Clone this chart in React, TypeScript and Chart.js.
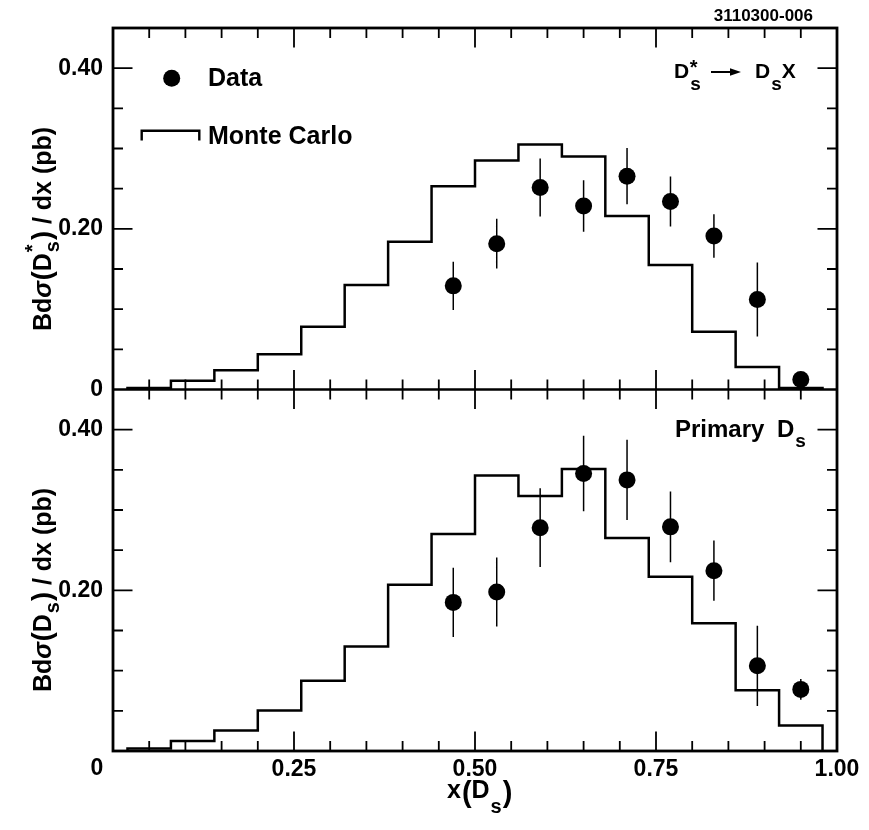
import React, { useEffect, useRef } from 'react';
import { Chart, registerables } from 'chart.js';

Chart.register(...registerables);

// ---------------- data ----------------
const binEdges = [0.02, 0.08, 0.14, 0.2, 0.26, 0.32, 0.38, 0.44, 0.5, 0.56, 0.62, 0.68, 0.74, 0.8, 0.86, 0.92, 0.98];
const mcTop = [0.002, 0.011, 0.024, 0.044, 0.078, 0.13, 0.184, 0.253, 0.285, 0.305, 0.29, 0.216, 0.155, 0.072, 0.028, 0.002];
const mcBottom = [0.003, 0.0125, 0.0255, 0.0505, 0.0875, 0.13, 0.207, 0.27, 0.343, 0.3175, 0.351, 0.265, 0.217, 0.159, 0.0755, 0.0317];

const dataX = [0.47, 0.53, 0.59, 0.65, 0.71, 0.77, 0.83, 0.89, 0.95];
const dataTop = [0.129, 0.1815, 0.2515, 0.2285, 0.2655, 0.234, 0.191, 0.112, 0.0125];
const errTop = [0.03, 0.031, 0.036, 0.032, 0.035, 0.031, 0.027, 0.046, 0.006];
const dataBottom = [0.185, 0.198, 0.278, 0.3455, 0.3375, 0.279, 0.2245, 0.106, 0.0767];
const errBottom = [0.043, 0.043, 0.049, 0.047, 0.05, 0.044, 0.0375, 0.05, 0.013];

const xLabelValues = [0.25, 0.5, 0.75, 1.0];
const xLabelTexts = ['0.25', '0.50', '0.75', '1.00'];
const yLabelValues = [0, 0.2, 0.4];
const yLabelTexts = ['0', '0.20', '0.40'];

// ---------------- helpers ----------------
const FONT = "'Liberation Sans', Arial, Helvetica, sans-serif";
const B = (s: number) => `bold ${s}px ${FONT}`;
const W = 869;
const H = 830;

function near(a: number, b: number) {
  return Math.abs(a - b) < 1e-6;
}
function labelFor(v: number, values: number[], texts: string[]) {
  const i = values.findIndex((u) => near(u, v));
  return i >= 0 ? texts[i] : '';
}
function stepPoints(edges: number[], vals: number[]) {
  const pts: { x: number; y: number }[] = [{ x: edges[0], y: 0 }];
  vals.forEach((v, i) => {
    pts.push({ x: edges[i], y: v });
    pts.push({ x: edges[i + 1], y: v });
  });
  pts.push({ x: edges[edges.length - 1], y: 0 });
  return pts;
}
function errPoints(xs: number[], ys: number[], es: number[]) {
  const pts: { x: number; y: number | null }[] = [];
  xs.forEach((x, i) => {
    pts.push({ x, y: ys[i] - es[i] }, { x, y: ys[i] + es[i] }, { x, y: null });
  });
  return pts;
}

function drawParts(ctx: CanvasRenderingContext2D, x: number, y: number, parts: any[]) {
  let cx = x;
  for (const p of parts) {
    ctx.font = p.font;
    const w = ctx.measureText(p.t).width;
    ctx.fillText(p.t, cx, y + (p.dy || 0));
    if (!p.noAdvance) cx += w + (p.gap || 0);
  }
  return cx;
}
function partsWidth(ctx: CanvasRenderingContext2D, parts: any[]) {
  let w = 0;
  for (const p of parts) {
    ctx.font = p.font;
    if (!p.noAdvance) w += ctx.measureText(p.t).width + (p.gap || 0);
  }
  return w;
}

function yTitleParts(star: boolean) {
  const parts: any[] = [
    { t: 'Bd', font: B(25) },
    { t: 'σ', font: `italic bold 25px ${FONT}`, gap: 1 },
    { t: '(', font: B(27) },
    { t: 'D', font: B(25), gap: 1 },
  ];
  if (star) parts.push({ t: '*', font: B(20), dy: -12, noAdvance: true });
  parts.push({ t: 's', font: B(20), dy: 8, gap: 1 });
  parts.push({ t: ')', font: B(27) });
  parts.push({ t: ' / dx (pb)', font: B(25) });
  return parts;
}

const framePlugin = {
  id: 'frameTicks',
  afterDatasetsDraw(chart: any) {
    const ctx: CanvasRenderingContext2D = chart.ctx;
    const { left, right, top, bottom } = chart.chartArea;
    const xs = chart.scales.x;
    const yt = chart.scales.yTop;
    const yb = chart.scales.yBot;
    const mid = yt.getPixelForValue(0);
    ctx.save();
    ctx.strokeStyle = '#000';
    ctx.lineWidth = 1.8;
    ctx.beginPath();
    xs.ticks.forEach((t: any) => {
      const v = t.value;
      if (v <= 1e-6 || v >= 1 - 1e-6) return;
      const major = near(v / 0.25, Math.round(v / 0.25));
      const len = major ? 19.5 : 10;
      const px = xs.getPixelForValue(v);
      ctx.moveTo(px, bottom);
      ctx.lineTo(px, bottom - len);
      ctx.moveTo(px, top);
      ctx.lineTo(px, top + len);
      ctx.moveTo(px, mid - len);
      ctx.lineTo(px, mid + len);
    });
    [yt, yb].forEach((ys: any) => {
      ys.ticks.forEach((t: any) => {
        const v = t.value;
        if (v <= 1e-6 || v >= ys.max - 1e-6) return;
        const major = near(v / 0.2, Math.round(v / 0.2));
        const len = major ? 19.5 : 10;
        const py = ys.getPixelForValue(v);
        ctx.moveTo(left, py);
        ctx.lineTo(left + len, py);
        ctx.moveTo(right, py);
        ctx.lineTo(right - len, py);
      });
    });
    ctx.stroke();
    ctx.lineWidth = 2.8;
    ctx.strokeRect(left, top, right - left, bottom - top);
    ctx.lineWidth = 2.4;
    ctx.beginPath();
    ctx.moveTo(left, mid);
    ctx.lineTo(right, mid);
    ctx.stroke();
    ctx.restore();
  },
  afterDraw(chart: any) {
    const ctx: CanvasRenderingContext2D = chart.ctx;
    const xs = chart.scales.x;
    ctx.save();
    ctx.fillStyle = '#000';
    ctx.strokeStyle = '#000';
    ctx.textBaseline = 'alphabetic';

    // figure id
    ctx.font = B(17);
    ctx.textAlign = 'right';
    ctx.fillText('3110300-006', 813, 21);
    ctx.textAlign = 'left';

    // legend
    ctx.beginPath();
    ctx.arc(171.7, 78.3, 8.5, 0, Math.PI * 2);
    ctx.fill();
    ctx.font = B(25);
    ctx.fillText('Data', 208, 86);
    ctx.lineWidth = 2.4;
    ctx.beginPath();
    ctx.moveTo(141.7, 140.5);
    ctx.lineTo(141.7, 130.7);
    ctx.lineTo(199.3, 130.7);
    ctx.lineTo(199.3, 140.5);
    ctx.stroke();
    ctx.fillText('Monte Carlo', 208, 143.5);

    // top-right panel label: Ds* -> Ds X
    ctx.font = B(21);
    ctx.fillText('D', 674, 78);
    const wD = ctx.measureText('D').width;
    ctx.font = B(20);
    ctx.fillText('*', 674 + wD + 0.5, 74);
    ctx.font = B(19);
    ctx.fillText('s', 674 + wD + 1, 90);
    ctx.lineWidth = 2;
    ctx.beginPath();
    ctx.moveTo(711, 72);
    ctx.lineTo(732, 72);
    ctx.stroke();
    ctx.beginPath();
    ctx.moveTo(730, 68.3);
    ctx.lineTo(741, 72);
    ctx.lineTo(730, 75.7);
    ctx.closePath();
    ctx.fill();
    ctx.font = B(21);
    ctx.fillText('D', 755, 78);
    ctx.font = B(19);
    ctx.fillText('s', 755 + wD + 1, 90);
    const ws = ctx.measureText('s').width;
    ctx.font = B(21);
    ctx.fillText('X', 755 + wD + 1 + ws, 78);

    // bottom panel label: Primary Ds
    ctx.font = B(24);
    ctx.fillText('Primary', 675, 437);
    ctx.fillText('D', 777, 437);
    const wD2 = ctx.measureText('D').width;
    ctx.font = B(19);
    ctx.fillText('s', 777 + wD2 + 1, 447);

    // x-axis "0" label
    ctx.font = B(23);
    ctx.textAlign = 'center';
    ctx.fillText('0', xs.getPixelForValue(0) - 16, 775);
    ctx.textAlign = 'left';

    // x title: x(Ds)
    drawParts(ctx, 447, 798, [
      { t: 'x', font: B(25), gap: 1 },
      { t: '(', font: B(29), dy: 4 },
      { t: 'D', font: B(25), gap: 1 },
      { t: 's', font: B(20), dy: 15, gap: 1 },
      { t: ')', font: B(29), dy: 4 },
    ]);

    // y titles (rotated)
    const drawY = (cy: number, star: boolean) => {
      const parts = yTitleParts(star);
      const w = partsWidth(ctx, parts);
      ctx.save();
      ctx.translate(51, cy);
      ctx.rotate(-Math.PI / 2);
      drawParts(ctx, -w / 2, 0, parts);
      ctx.restore();
    };
    drawY(229, true);
    drawY(590, false);

    ctx.restore();
  },
};

export default function App() {
  const ref = useRef<HTMLCanvasElement>(null);
  useEffect(() => {
    const tickFont = { family: FONT, size: 23, weight: 'bold' as const };
    const yScale = (weight: number, hideZero: boolean) => ({
      type: 'linear' as const,
      position: 'left' as const,
      stack: 'panels',
      stackWeight: 1,
      weight,
      min: 0,
      max: 0.45,
      grid: { display: false, drawTicks: false },
      border: { display: false },
      ticks: {
        stepSize: 0.05,
        autoSkip: false,
        padding: 10,
        color: '#000',
        font: tickFont,
        callback: (v: any) => (hideZero && near(Number(v), 0) ? '' : labelFor(Number(v), yLabelValues, yLabelTexts)),
      },
      afterFit: (s: any) => {
        s.width = 113;
      },
    });
    const chart = new Chart(ref.current as HTMLCanvasElement, {
      type: 'line',
      data: {
        datasets: [
          {
            type: 'line',
            label: 'Monte Carlo (Ds*)',
            data: stepPoints(binEdges, mcTop),
            yAxisID: 'yTop',
            borderColor: '#000',
            borderWidth: 2.5,
            pointRadius: 0,
            fill: false,
            tension: 0,
            order: 3,
          },
          {
            type: 'line',
            label: 'Data errors (Ds*)',
            data: errPoints(dataX, dataTop, errTop) as any,
            yAxisID: 'yTop',
            borderColor: '#000',
            borderWidth: 1.5,
            pointRadius: 0,
            spanGaps: false,
            fill: false,
            order: 2,
          },
          {
            type: 'scatter',
            label: 'Data (Ds*)',
            data: dataX.map((x, i) => ({ x, y: dataTop[i] })),
            yAxisID: 'yTop',
            pointRadius: 8.5,
            pointBackgroundColor: '#000',
            pointBorderWidth: 0,
            backgroundColor: '#000',
            order: 1,
          },
          {
            type: 'line',
            label: 'Monte Carlo (primary)',
            data: stepPoints(binEdges, mcBottom),
            yAxisID: 'yBot',
            borderColor: '#000',
            borderWidth: 2.5,
            pointRadius: 0,
            fill: false,
            tension: 0,
            order: 3,
          },
          {
            type: 'line',
            label: 'Data errors (primary)',
            data: errPoints(dataX, dataBottom, errBottom) as any,
            yAxisID: 'yBot',
            borderColor: '#000',
            borderWidth: 1.5,
            pointRadius: 0,
            spanGaps: false,
            fill: false,
            order: 2,
          },
          {
            type: 'scatter',
            label: 'Data (primary)',
            data: dataX.map((x, i) => ({ x, y: dataBottom[i] })),
            yAxisID: 'yBot',
            pointRadius: 8.5,
            pointBackgroundColor: '#000',
            pointBorderWidth: 0,
            backgroundColor: '#000',
            order: 1,
          },
        ],
      },
      options: {
        responsive: false,
        animation: false,
        events: [],
        layout: { padding: { top: 28, right: 32, left: 0, bottom: 0 } },
        plugins: { legend: { display: false }, tooltip: { enabled: false } },
        scales: {
          x: {
            type: 'linear',
            position: 'bottom',
            min: 0,
            max: 1,
            grid: { display: false, drawTicks: false },
            border: { display: false },
            ticks: {
              stepSize: 0.05,
              autoSkip: false,
              maxRotation: 0,
              minRotation: 0,
              padding: 5,
              color: '#000',
              font: tickFont,
              callback: (v: any) => labelFor(Number(v), xLabelValues, xLabelTexts),
            },
            afterFit: (s: any) => {
              s.height = 79;
            },
          },
          yTop: yScale(2, false),
          yBot: yScale(1, true),
        } as any,
      },
      plugins: [framePlugin],
    } as any);
    return () => chart.destroy();
  }, []);
  return (
    <div style={{ position: 'absolute', left: 0, top: 0, width: W, height: H, background: '#fff' }}>
      <canvas ref={ref} width={W} height={H} style={{ width: W, height: H, display: 'block' }} />
    </div>
  );
}
